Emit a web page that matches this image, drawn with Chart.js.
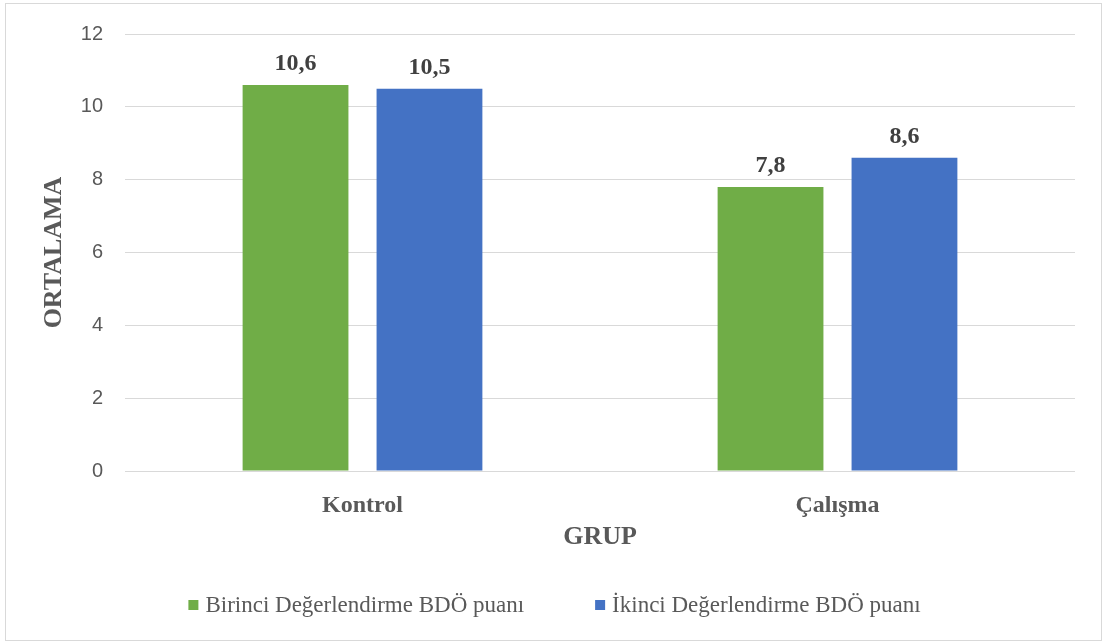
<!DOCTYPE html>
<html>
<head>
<meta charset="utf-8">
<script src="https://cdn.jsdelivr.net/npm/chart.js@4"></script>
<style>
  html, body { margin: 0; padding: 0; background: #fff; }
  #wrap { position: relative; width: 1103px; height: 642px; }
  #frame {
    position: absolute; left: 5px; top: 3px; width: 1097px; height: 638px;
    box-sizing: border-box; border: 1px solid #d9d9d9; pointer-events: none;
  }
</style>
</head>
<body>
<div id="wrap">
  <canvas id="chart" width="1103" height="642"></canvas>
  <div id="frame"></div>
</div>
<script>
const groups = ['Kontrol', 'Çalışma'];
const firstScores = [10.6, 7.8];
const secondScores = [10.5, 8.6];
const seriesNames = ['Birinci Değerlendirme BDÖ puanı', 'İkinci Değerlendirme BDÖ puanı'];
const seriesColors = ['#70AD47', '#4472C4'];

const SERIF = '"Liberation Serif", "Times New Roman", serif';

// value labels above the bars, decimal comma
const valueLabels = {
    id: 'valueLabels',
    afterDatasetsDraw(chart) {
        const ctx = chart.ctx;
        ctx.save();
        ctx.font = 'bold 24px ' + SERIF;
        ctx.fillStyle = '#404040';
        ctx.textAlign = 'center';
        ctx.textBaseline = 'alphabetic';
        chart.data.datasets.forEach((ds, i) => {
            chart.getDatasetMeta(i).data.forEach((bar, j) => {
                const txt = ds.data[j].toFixed(1).replace('.', ',');
                ctx.fillText(txt, bar.x, bar.y - 15);
            });
        });
        ctx.restore();
    }
};

// legend drawn by hand so the item gap can be wide without a tall box
const bottomLegend = {
    id: 'bottomLegend',
    afterDraw(chart) {
        const ctx = chart.ctx;
        ctx.save();
        ctx.font = '23px ' + SERIF;
        ctx.textBaseline = 'middle';
        const box = 10, boxGap = 7, itemGap = 71;
        const widths = chart.data.datasets.map(ds => box + boxGap + ctx.measureText(ds.label).width);
        const total = widths.reduce((a, b) => a + b, 0) + itemGap * (widths.length - 1);
        let x = (chart.width - total) / 2 + 3;
        const y = 605;
        chart.data.datasets.forEach((ds, i) => {
            ctx.fillStyle = ds.backgroundColor;
            ctx.fillRect(x, y - box / 2, box, box);
            ctx.fillStyle = '#595959';
            ctx.fillText(ds.label, x + box + boxGap, y + 1);
            x += widths[i] + itemGap;
        });
        ctx.restore();
    }
};

new Chart(document.getElementById('chart'), {
    type: 'bar',
    data: {
        labels: groups,
        datasets: [
            { label: seriesNames[0], data: firstScores, backgroundColor: seriesColors[0] },
            { label: seriesNames[1], data: secondScores, backgroundColor: seriesColors[1] }
        ]
    },
    options: {
        responsive: false,
        animation: false,
        events: [],
        layout: { padding: { top: 32, right: 28, bottom: 80, left: 0 } },
        datasets: { bar: { categoryPercentage: 0.564, barPercentage: 0.79 } },
        plugins: { legend: { display: false }, tooltip: { enabled: false } },
        scales: {
            x: {
                grid: { display: false },
                border: { display: false },
                ticks: { color: '#595959', padding: 12, font: { family: SERIF, size: 24, weight: 'bold' } },
                title: {
                    display: true, text: 'GRUP', color: '#595959',
                    font: { family: SERIF, size: 26, weight: 'bold' },
                    padding: { top: 0, bottom: 9 }
                },
                afterFit(scale) { scale.height = 91; }
            },
            y: {
                min: 0, max: 12,
                ticks: { stepSize: 2, color: '#595959', padding: 22, font: { family: '"Liberation Sans", Arial, sans-serif', size: 20 } },
                grid: { color: '#d9d9d9', lineWidth: 1, drawTicks: false },
                border: { display: false },
                title: {
                    display: true, text: 'ORTALAMA', color: '#595959',
                    font: { family: SERIF, size: 26, weight: 'bold' },
                    padding: { top: 39, bottom: 0 }
                },
                afterFit(scale) { scale.width = 125; }
            }
        }
    },
    plugins: [valueLabels, bottomLegend]
});
</script>
</body>
</html>
